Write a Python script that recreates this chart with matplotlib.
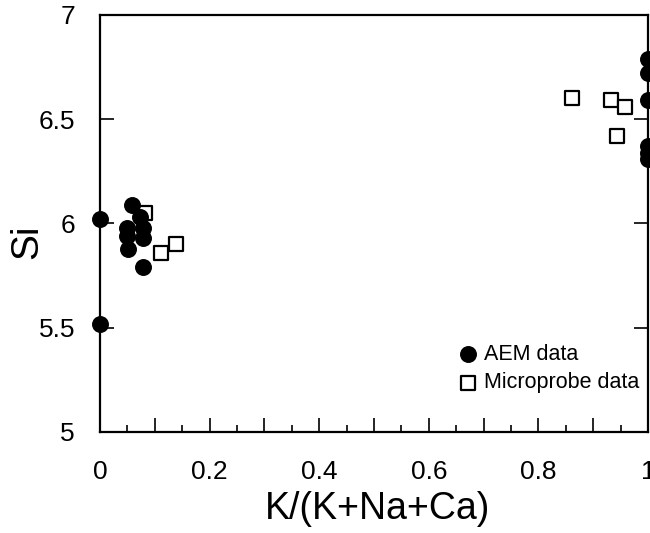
import numpy as np
import matplotlib
matplotlib.use('Agg')
import matplotlib.pyplot as plt
from matplotlib.ticker import MultipleLocator, FixedLocator, FixedFormatter

plt.rcParams['font.family'] = ['Liberation Sans', 'DejaVu Sans']

# AEM data (filled circles)
aem_x = [0.0, 0.0, 0.058, 0.049, 0.049, 0.073, 0.078, 0.078, 0.051, 0.078,
         1.0, 1.0, 1.0, 1.0, 1.0, 1.0]
aem_si = [6.02, 5.52, 6.09, 5.98, 5.94, 6.03, 5.98, 5.93, 5.88, 5.79,
          6.79, 6.72, 6.59, 6.37, 6.34, 6.31]

# Microprobe data (open squares)
micro_x = [0.082, 0.111, 0.138, 0.862, 0.933, 0.958, 0.943]
micro_si = [6.05, 5.86, 5.90, 6.60, 6.59, 6.56, 6.42]

fig = plt.figure(figsize=(6.5, 5.33), dpi=100)
ax = fig.add_axes([0.1538, 0.1895, 0.997 - 0.1538, 0.9719 - 0.1895])

ax.scatter(micro_x, micro_si, marker='s', s=95, facecolor='white',
           edgecolor='black', linewidth=1.6, label='Microprobe data',
           clip_on=False, zorder=3)
ax.scatter(aem_x, aem_si, marker='o', s=125, color='black',
           label='AEM data', clip_on=False, zorder=4)

ax.set_xlim(0, 1)
ax.set_ylim(5, 7)

# x ticks: long every 0.1, labels every 0.2, short every 0.05
xmaj = np.round(np.arange(0, 1.01, 0.1), 2)
xlab = ['0' if v == 0 else ('1' if v == 1 else (f'{v:g}' if round(v * 10) % 2 == 0 else ''))
        for v in xmaj]
ax.xaxis.set_major_locator(FixedLocator(xmaj))
ax.xaxis.set_major_formatter(FixedFormatter(xlab))
ax.xaxis.set_minor_locator(MultipleLocator(0.05))

ax.set_yticks([5, 5.5, 6, 6.5, 7])
ax.set_yticklabels(['5', '5.5', '6', '6.5', '7'])

ax.tick_params(axis='x', which='major', direction='in', length=10, width=1.2,
               labelsize=19, pad=20, top=False)
ax.tick_params(axis='x', which='minor', direction='in', length=5, width=1.2, top=False)
ax.tick_params(axis='y', which='major', direction='in', length=10, width=1.2,
               labelsize=19, pad=18, right=True)

for s in ax.spines.values():
    s.set_linewidth(1.6)

ax.set_xlabel('K/(K+Na+Ca)', fontsize=27)
ax.xaxis.set_label_coords(0.507, -0.142)
ax.set_ylabel('Si', fontsize=28)
ax.yaxis.set_label_coords(-0.1, 0.456)

handles, labels = ax.get_legend_handles_labels()
ax.legend(handles[::-1], labels[::-1], loc='lower left', bbox_to_anchor=(0.652, 0.093),
          frameon=False, fontsize=15.5, handletextpad=0.25, labelspacing=0.35,
          handlelength=1.0, borderpad=0, borderaxespad=0)

fig.savefig('out.png', dpi=100)
